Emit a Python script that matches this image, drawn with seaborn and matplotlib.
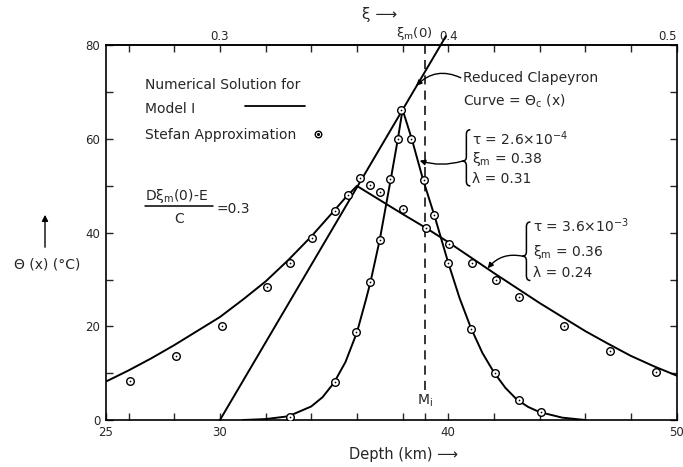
import matplotlib
matplotlib.use("Agg")
import matplotlib.pyplot as plt
import seaborn as sns
import pandas as pd
from matplotlib.path import Path
from matplotlib.patches import PathPatch

# ---------------- data ----------------
depth_A = [31.0, 32.0, 33.0, 34.0, 34.5, 35.0, 35.5, 36.0, 36.4, 36.6, 37.0, 37.5, 37.8, 38.0,
           38.4, 38.9, 39.4, 40.0, 40.5, 41.0, 41.5, 42.0, 42.5, 43.0, 43.5, 44.0, 45.0, 46.0]
theta_A = [0.0, 0.2, 0.8, 2.9, 4.9, 8.0, 12.4, 18.7, 25.8, 29.6, 38.5, 51.9, 60.2, 66.3,
           60.1, 51.3, 43.6, 33.6, 26.0, 19.6, 14.3, 10.2, 6.9, 4.4, 2.8, 1.7, 0.5, 0.0]

depth_B = [25, 26, 27, 28, 29, 30, 31, 32, 33, 34, 35, 35.5, 36, 37, 38, 39, 40, 41, 42, 43,
           44, 45, 46, 47, 48, 49, 50]
theta_B = [8.2, 10.6, 13.2, 16.0, 19.0, 22.0, 25.7, 29.6, 34.2, 39.2, 44.7, 47.5, 50.0, 47.0,
           44.0, 41.1, 38.0, 34.7, 31.4, 28.2, 25.0, 22.0, 19.0, 16.3, 13.7, 11.5, 9.5]

clap_depth = [30.0, 39.9]
clap_theta = [0.0, 82.0]

stefan_A_depth = [33.06, 35.04, 35.98, 36.59, 37.0, 37.47, 37.78, 37.94, 38.39, 38.93, 39.38,
                  39.99, 41.01, 42.06, 43.08, 44.08]
stefan_A_theta = [0.7, 8.15, 18.7, 29.5, 38.4, 51.5, 60.1, 66.2, 60.1, 51.3, 43.8, 33.6, 19.5,
                  10.0, 4.3, 1.65]
stefan_B_depth = [26.06, 28.07, 30.07, 32.04, 33.06, 34.02, 35.03, 35.61, 36.15, 36.59, 37.0,
                  38.02, 39.04, 40.03, 41.06, 42.08, 43.08, 45.05, 47.07, 49.1]
stefan_B_theta = [8.4, 13.6, 20.0, 28.5, 33.5, 38.8, 44.6, 48.1, 51.65, 50.1, 48.6, 45.1, 41.0,
                  37.55, 33.5, 29.9, 26.3, 20.0, 14.7, 10.2]

mi_depth = 39.0
x_major = [25, 30, 40, 50]
x_minor = [26, 28, 32, 34, 36, 38, 39, 42, 44, 46, 48]
xi_major = [0.3, 0.4, 0.5]
xi_minor = [0.26, 0.28, 0.32, 0.34, 0.36, 0.38, 0.42, 0.44, 0.46, 0.48]
y_major = [0, 20, 40, 60, 80]
y_minor = [10, 30, 50, 70]

# ---------------- figure ----------------
sns.set_theme(style="white")
plt.rcParams['font.family'] = ['DejaVu Sans']
plt.rcParams['mathtext.fontset'] = 'dejavusans'

fig = plt.figure(figsize=(6.83, 4.67), dpi=100)
ax = fig.add_axes([0.1549, 0.1006, 0.8356, 0.802])

lw = 1.4
dfA = pd.DataFrame({"depth": depth_A, "theta": theta_A})
dfB = pd.DataFrame({"depth": depth_B, "theta": theta_B})
dfC = pd.DataFrame({"depth": clap_depth, "theta": clap_theta})
sns.lineplot(data=dfA, x="depth", y="theta", sort=False, estimator=None, color="black", lw=lw, ax=ax)
sns.lineplot(data=dfB, x="depth", y="theta", sort=False, estimator=None, color="black", lw=lw, ax=ax)
sns.lineplot(data=dfC, x="depth", y="theta", sort=False, estimator=None, color="black", lw=lw, ax=ax)
ax.lines[-1].set_clip_on(False)

dfS = pd.DataFrame({"depth": stefan_A_depth + stefan_B_depth,
                    "theta": stefan_A_theta + stefan_B_theta})
sns.scatterplot(data=dfS, x="depth", y="theta", s=30, facecolor="white", edgecolor="black",
                linewidth=1.0, ax=ax, zorder=5)
sns.scatterplot(data=dfS, x="depth", y="theta", s=1.5, color="black", linewidth=0, ax=ax, zorder=6)

# dashed M_i line
ax.plot([mi_depth, mi_depth], [6.5, 80], color="black", lw=1.1, ls=(0, (6, 4)))
ax.text(mi_depth, 4.0, "M$_\\mathregular{i}$", ha="center", va="center", fontsize=10)

ax.set_xlim(25, 50)
ax.set_ylim(0, 80)
ax.set_xticks(x_major)
ax.set_xticks(x_minor, minor=True)
ax.set_yticks(y_major)
ax.set_yticks(y_minor, minor=True)
ax.set_xticklabels([str(v) for v in x_major])
ax.set_yticklabels([str(v) for v in y_major])
ax.tick_params(which="both", direction="in", length=5, width=1, labelsize=8.5,
               right=True, bottom=True, left=True, top=False, pad=4)
ax.set_xlabel("")
ax.set_ylabel("")
for s in ax.spines.values():
    s.set_linewidth(1.2)
    s.set_color("black")

sec = ax.secondary_xaxis("top", functions=(lambda d: d / 100.0, lambda x: x * 100.0))
sec.set_xticks(xi_major)
sec.set_xticks(xi_minor, minor=True)
sec.set_xticklabels(["0.3", "0.4", "0.5"])
sec.tick_params(which="both", direction="in", length=5, width=1, labelsize=8.5, pad=2)
sec.get_xticklabels()[-1].set_ha("right")

# legend text
fs = 10
ax.text(26.72, 71.5, "Numerical Solution for", fontsize=fs, va="center", ha="left")
ax.text(26.72, 66.5, "Model I", fontsize=fs, va="center", ha="left")
ax.plot([31.08, 33.72], [67.0, 67.0], color="black", lw=1.3)
ax.text(26.72, 60.8, "Stefan Approximation", fontsize=fs, va="center", ha="left")
ax.scatter([34.3], [61.0], s=22, facecolor="white", edgecolor="black", linewidth=1.0, zorder=5)
ax.scatter([34.3], [61.0], s=1.5, color="black", zorder=6)

# fraction
ax.text(26.72, 47.9, "D\u03be$_\\mathregular{m}$(0)-E", fontsize=fs, va="center", ha="left")
ax.plot([26.72, 29.7], [45.8, 45.8], color="black", lw=1.1)
ax.text(28.2, 42.9, "C", fontsize=fs, va="center", ha="center")
ax.text(29.85, 45.1, "=0.3", fontsize=fs, va="center", ha="left")

# Clapeyron annotation
ax.text(40.65, 73.0, "Reduced Clapeyron", fontsize=fs, va="center", ha="left")
ax.text(40.65, 68.0, "Curve = \u0398$_\\mathregular{c}$ (x)", fontsize=fs, va="center", ha="left")
ax.annotate("", xy=(38.6, 71.4), xytext=(40.55, 73.1),
            arrowprops=dict(arrowstyle="-|>", color="black", lw=1.0, mutation_scale=8,
                            connectionstyle="arc3,rad=0.35", shrinkA=0, shrinkB=0))


def brace(x, y0, y1, w, ymid=None):
    if ymid is None:
        ymid = (y0 + y1) / 2
    h = (y1 - y0) * 0.08
    verts = [(x + w, y1), (x + w / 2, y1), (x + w / 2, y1 - h),
             (x + w / 2, ymid + h),
             (x + w / 2, ymid), (x, ymid),
             (x + w / 2, ymid), (x + w / 2, ymid - h),
             (x + w / 2, y0 + h),
             (x + w / 2, y0), (x + w, y0)]
    codes = [Path.MOVETO, Path.CURVE3, Path.CURVE3, Path.LINETO, Path.CURVE3, Path.CURVE3,
             Path.CURVE3, Path.CURVE3, Path.LINETO, Path.CURVE3, Path.CURVE3]
    ax.add_patch(PathPatch(Path(verts, codes), fill=False, lw=1.1, color="black"))


# brace 1
brace(40.62, 50.0, 62.0, 0.35, ymid=55.3)
ax.text(41.05, 60.1, "\u03c4 = 2.6\u00d710$^{\\mathregular{-4}}$", fontsize=fs, va="center", ha="left")
ax.text(41.05, 55.8, "\u03be$_\\mathregular{m}$ = 0.38", fontsize=fs, va="center", ha="left")
ax.text(41.05, 51.5, "\u03bb = 0.31", fontsize=fs, va="center", ha="left")
ax.annotate("", xy=(38.75, 55.4), xytext=(40.62, 55.3),
            arrowprops=dict(arrowstyle="-|>", color="black", lw=1.0, mutation_scale=8,
                            connectionstyle="arc3,rad=-0.15", shrinkA=0, shrinkB=0))

# brace 2
brace(43.25, 29.8, 42.3, 0.35, ymid=35.0)
ax.text(43.7, 41.5, "\u03c4 = 3.6\u00d710$^{\\mathregular{-3}}$", fontsize=fs, va="center", ha="left")
ax.text(43.7, 35.8, "\u03be$_\\mathregular{m}$ = 0.36", fontsize=fs, va="center", ha="left")
ax.text(43.7, 31.5, "\u03bb = 0.24", fontsize=fs, va="center", ha="left")
ax.annotate("", xy=(41.73, 32.4), xytext=(43.25, 35.0),
            arrowprops=dict(arrowstyle="-|>", color="black", lw=1.0, mutation_scale=8,
                            connectionstyle="arc3,rad=0.3", shrinkA=0, shrinkB=0))

# figure-level labels
fig.text(404 / 683, 1 - 455 / 467, "Depth (km) \u27f6", fontsize=10.5, ha="center", va="center")
fig.text(380 / 683, 1 - 15 / 467, "\u03be \u27f6", fontsize=11, ha="center", va="center")
fig.text(414 / 683, 1 - 33 / 467, "\u03be$_\\mathregular{m}$(0)", fontsize=9.5, ha="center", va="center")
fig.text(47 / 683, 1 - 265 / 467, "\u0398 (x) (\u00b0C)", fontsize=10, ha="center", va="center")
fig.add_artist(matplotlib.patches.FancyArrowPatch((45 / 683, 1 - 250 / 467), (45 / 683, 1 - 212 / 467),
                                                  transform=fig.transFigure, arrowstyle="-|>",
                                                  mutation_scale=9, color="black", lw=1.0))

fig.savefig("out.png", dpi=100)
